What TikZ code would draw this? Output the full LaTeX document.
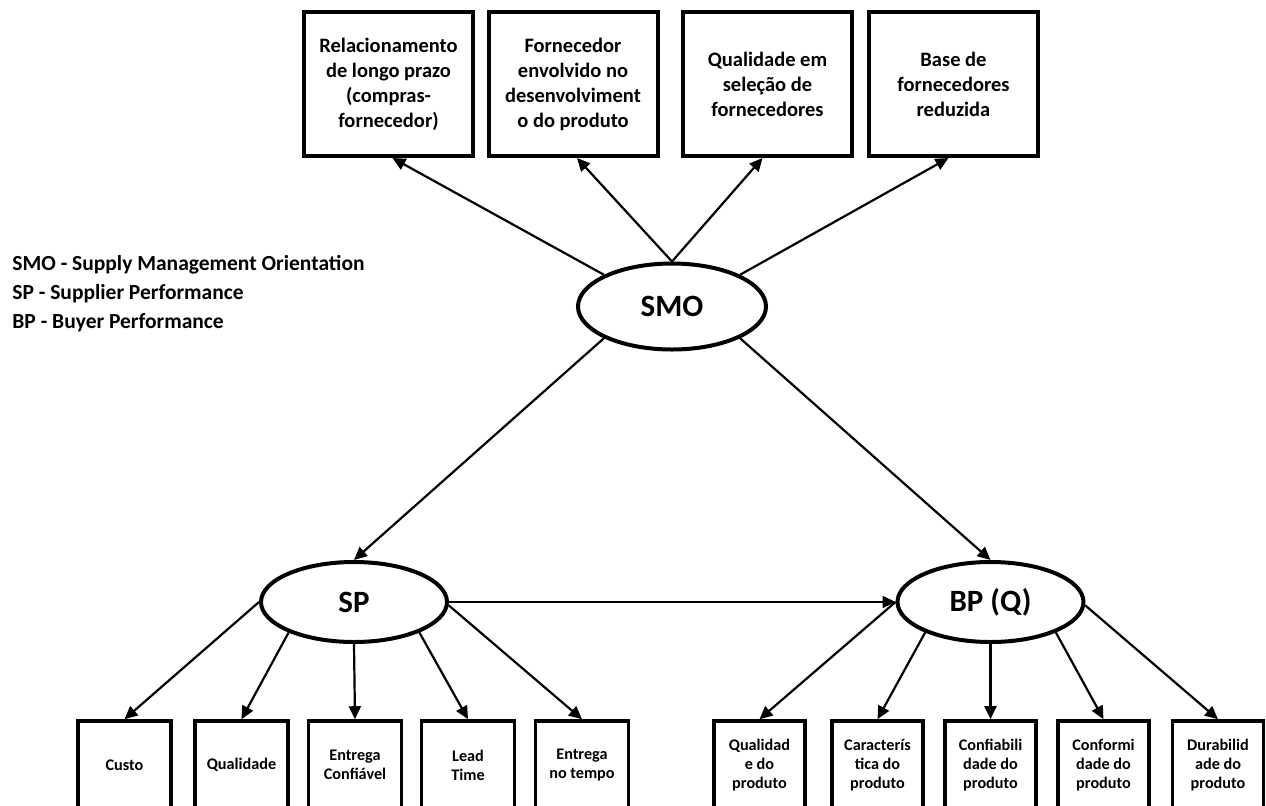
\documentclass[tikz,border=0pt]{standalone}
\usepackage{fontspec}
\setmainfont{Carlito}
\usetikzlibrary{arrows.meta,shapes.geometric}

\begin{document}
\begin{tikzpicture}[
  x=0.5pt, y=-0.5pt,
  topbox/.style={draw, line width=2pt, minimum width=84.5pt, minimum height=72pt,
    align=center, inner sep=1pt, font=\bfseries\fontsize{10.25}{12.5}\selectfont},
  lbox/.style={draw, line width=1.8pt, minimum width=46.5pt, minimum height=44pt,
    align=center, inner sep=1pt, font=\bfseries\fontsize{8.1}{9.6}\selectfont},
  rbox/.style={lbox, minimum width=45.5pt},
  latent/.style={draw, ellipse, line width=2pt, inner sep=0pt,
    font=\bfseries\fontsize{15.5}{17}\selectfont},
  legend/.style={anchor=west, inner sep=0pt, font=\bfseries\fontsize{10.75}{12}\selectfont},
  link/.style={line width=1.1pt, -{Triangle[length=6.5pt,width=6pt]}},
]
% page frame; the lower boxes run past its bottom edge
\useasboundingbox (0,0) rectangle (1266,805);
\clip (0,0) rectangle (1266,805);

% indicators of supply management orientation
\node[topbox] (t1) at (388.5,84) {Relacionamento\\de longo prazo\\(compras-\\fornecedor)};
\node[topbox] (t2) at (573,84) {Fornecedor\\envolvido no\\desenvolviment\\o do produto};
\node[topbox] (t3) at (767.5,84) {Qualidade em\\seleção de\\fornecedores};
\node[topbox] (t4) at (953.5,84) {Base de\\fornecedores\\reduzida};

% legend
\node[legend] (l1) at (12,265) {SMO - Supply Management Orientation};
\node[legend] (l2) at (12,294) {SP - Supplier Performance};
\node[legend] (l3) at (12,323) {BP - Buyer Performance};

% latent constructs
\node[latent, minimum width=94pt, minimum height=43pt] (smo) at (672,306.5) {SMO};
\node[latent, minimum width=93pt, minimum height=40pt] (sp) at (354,602) {SP};
\node[latent, minimum width=93pt, minimum height=40pt] (bp) at (990.5,602) {BP (Q)};

% supplier performance indicators
\node[lbox] (s1) at (124.5,765) {Custo};
\node[lbox] (s2) at (241.5,765) {Qualidade};
\node[lbox] (s3) at (355,765) {Entrega\\Confiável};
\node[lbox] (s4) at (468,765) {Lead\\Time};
\node[lbox] (s5) at (582,765) {Entrega\\no tempo};

% buyer performance (quality) indicators
\node[rbox] (b1) at (759.5,765) {Qualidad\\e do\\produto};
\node[rbox] (b2) at (877.5,765) {Caracterís\\tica do\\produto};
\node[rbox] (b3) at (990.5,765) {Confiabili\\dade do\\produto};
\node[rbox] (b4) at (1103.5,765) {Conformi\\dade do\\produto};
\node[rbox] (b5) at (1218,765) {Durabilid\\ade do\\produto};

% SMO loadings
\draw[link] (smo.155) -- ([xshift=2pt]t1.south);
\draw[link] (smo.north) -- ([xshift=2pt]t2.south);
\draw[link] (smo.north) -- ([xshift=-2.5pt]t3.south);
\draw[link] (smo.25) -- ([xshift=-2.5pt]t4.south);

% structural paths
\draw[link] (smo.205) -- (sp.north);
\draw[link] (smo.335) -- (bp.north);
\draw[link] (sp.east) -- (bp.west);

% SP loadings
\draw[link] (sp.west) -- (s1.north);
\draw[link] (sp.205) -- (s2.north);
\draw[link] (sp.south) -- (s3.north);
\draw[link] (sp.335) -- (s4.north);
\draw[link] (sp.358) -- (s5.north);

% BP loadings
\draw[link] (bp.west) -- (b1.north);
\draw[link] (bp.205) -- (b2.north);
\draw[link] (bp.south) -- (b3.north);
\draw[link] (bp.335) -- (b4.north);
\draw[link] (bp.358) -- (b5.north);
\end{tikzpicture}
\end{document}
